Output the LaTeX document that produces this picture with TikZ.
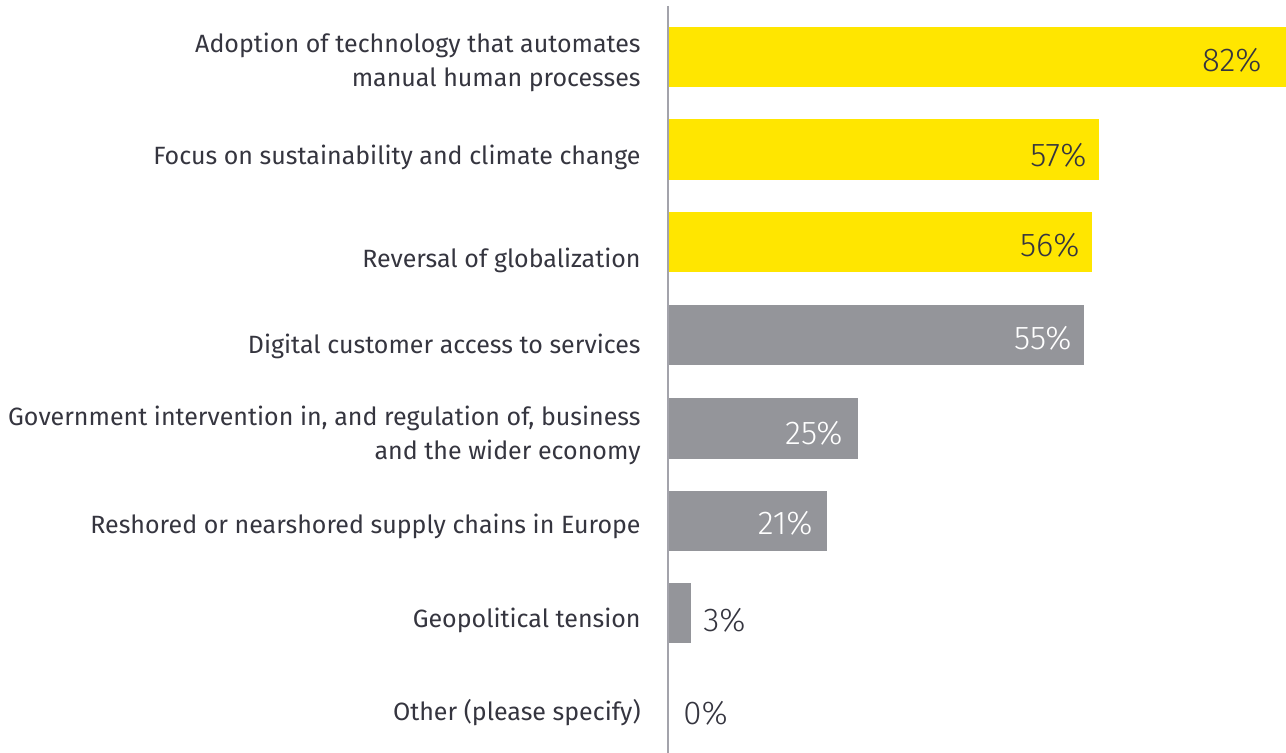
\documentclass[tikz,border=0pt]{standalone}
\usepackage{fontspec}
\setmainfont{Fira Sans}
\newfontfamily\lightfont{Fira Sans Light}
\definecolor{eyyellow}{HTML}{FFE600}
\definecolor{eygray}{HTML}{94959A}
\definecolor{axisgray}{HTML}{A3A3AB}
\definecolor{txtgray}{HTML}{35353F}
\begin{document}
\begin{tikzpicture}[x=0.5pt,y=-0.5pt,
    cat/.style={anchor=east,align=right,text=txtgray,font=\fontsize{12.5}{17}\selectfont,inner sep=0pt},
    pct/.style={anchor=east,font=\lightfont\fontsize{16.5}{18}\selectfont,inner sep=0pt},
    pctout/.style={anchor=west,text=txtgray,font=\lightfont\fontsize{16.5}{18}\selectfont,inner sep=0pt}]
  \useasboundingbox (0,0) rectangle (1286,753);
  % bars
  \fill[eyyellow] (668,27) rectangle (1286,87);
  \fill[eyyellow] (668,119) rectangle (1099,180);
  \fill[eyyellow] (668,212) rectangle (1092,272);
  \fill[eygray] (668,305) rectangle (1084,365);
  \fill[eygray] (668,398) rectangle (858,459);
  \fill[eygray] (668,491) rectangle (827,551);
  \fill[eygray] (668,583) rectangle (691,643);
  % axis
  \coordinate (axtop) at (668,6);
  \coordinate (axbot) at (668,753);
  \draw[axisgray,line width=0.8pt] (axtop) -- (axbot);
  % categories
  \node[cat] (c1) at (641,62) {Adoption of technology that automates\\manual human processes};
  \node[cat] (c2) at (641,157) {Focus on sustainability and climate change};
  \node[cat] (c3) at (641,260) {Reversal of globalization};
  \node[cat] (c4) at (641,346) {Digital customer access to services};
  \node[cat] (c5) at (641,435) {Government intervention in, and regulation of, business\\and the wider economy};
  \node[cat] (c6) at (641,526) {Reshored or nearshored supply chains in Europe};
  \node[cat] (c7) at (641,620) {Geopolitical tension};
  \node[cat] (c8) at (641,713) {Other (please specify)};
  % values
  \node[pct,text=txtgray] (v1) at (1262,60) {82\%};
  \node[pct,text=txtgray] (v2) at (1087,155) {57\%};
  \node[pct,text=txtgray] (v3) at (1080,245) {56\%};
  \node[pct,text=white] (v4) at (1072,338) {55\%};
  \node[pct,text=white] (v5) at (843,433) {25\%};
  \node[pct,text=white] (v6) at (813,523) {21\%};
  \node[pctout] (v7) at (703,620) {3\%};
  \node[pctout] (v8) at (683,713) {0\%};
\end{tikzpicture}
\end{document}
